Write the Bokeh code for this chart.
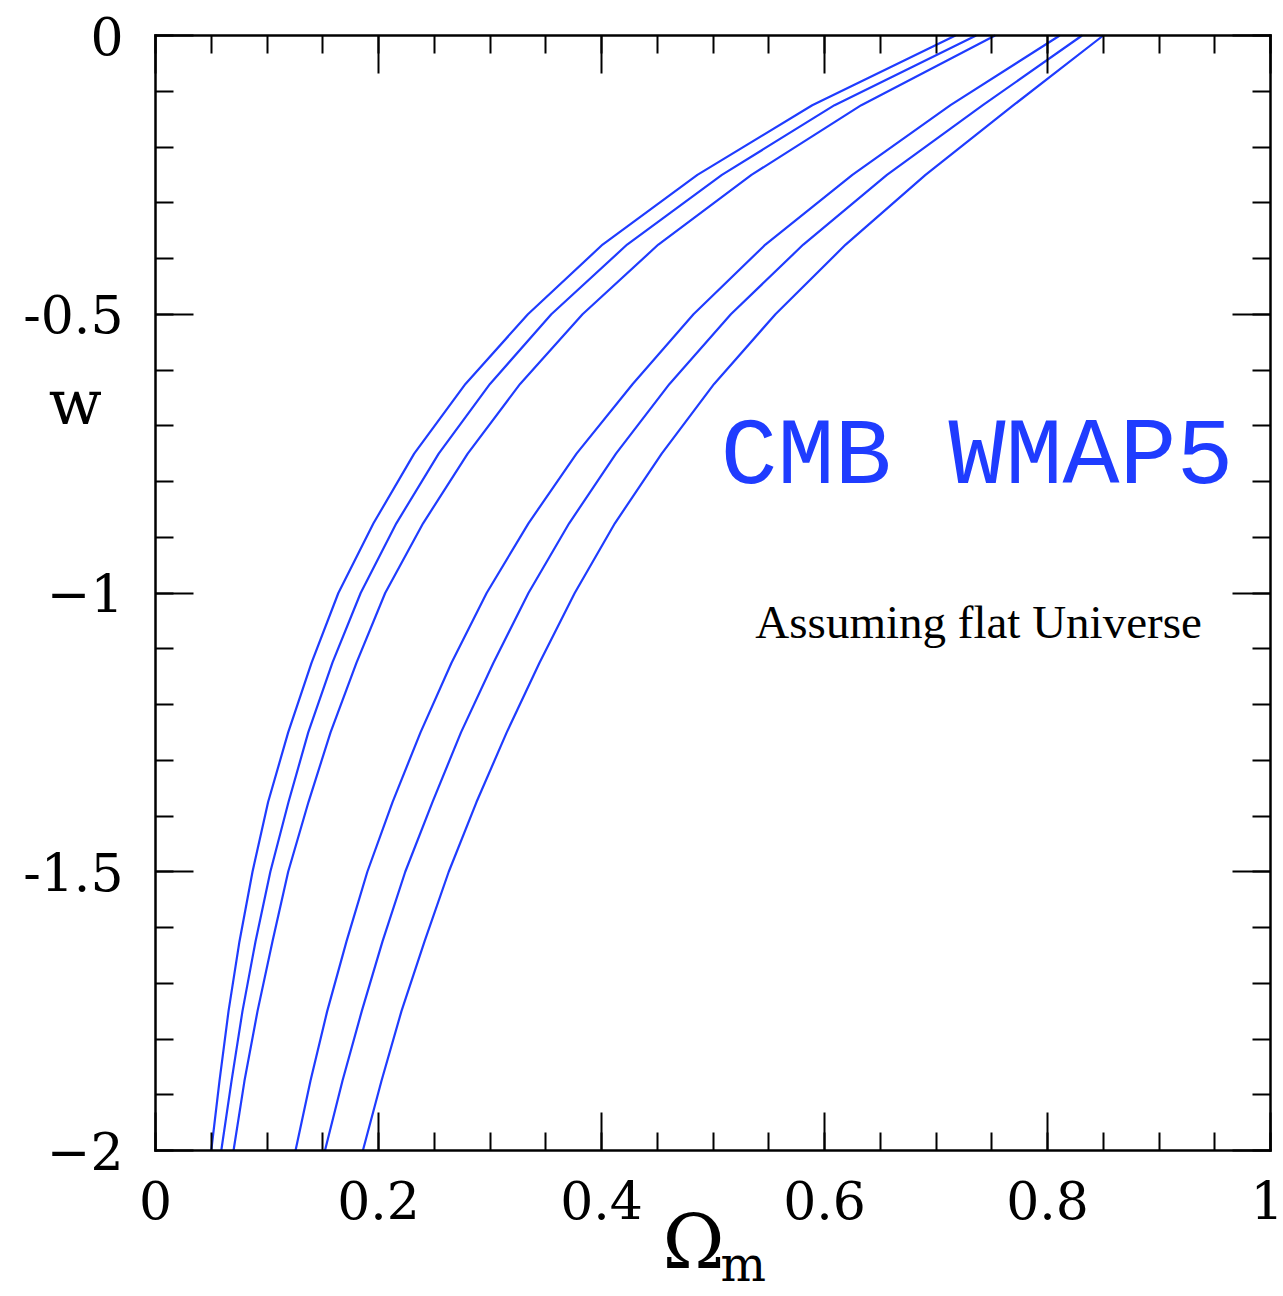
from bokeh.plotting import figure
from bokeh.models import LinearAxis, FixedTicker, Range1d, Label
from bokeh.embed import file_html
from bokeh.resources import INLINE

# Dark-energy equation of state w at which each contour is sampled
w_vals = [0.0, -0.125, -0.25, -0.375, -0.5, -0.625, -0.75, -0.875,
          -1.0, -1.125, -1.25, -1.375, -1.5, -1.625, -1.75, -1.875, -2.0]

# Omega_m along the three contours of the left band
om_a1 = [0.7175, 0.589, 0.486, 0.401, 0.334, 0.278, 0.232, 0.1955,
         0.164, 0.140, 0.119, 0.101, 0.087, 0.0753, 0.0655, 0.0574, 0.050]
om_a2 = [0.736, 0.609, 0.508, 0.423, 0.355, 0.300, 0.254, 0.216,
         0.184, 0.1587, 0.137, 0.1193, 0.103, 0.0897, 0.078, 0.0682, 0.059]
om_a3 = [0.753, 0.633, 0.5345, 0.451, 0.383, 0.327, 0.280, 0.240,
         0.206, 0.1803, 0.157, 0.1372, 0.119, 0.1049, 0.0915, 0.0798, 0.070]

# Omega_m along the three contours of the right band
om_b1 = [0.811, 0.713, 0.625, 0.547, 0.4825, 0.428, 0.3776, 0.3345,
         0.297, 0.2655, 0.2377, 0.2126, 0.190, 0.1713, 0.154, 0.139, 0.1256]
om_b2 = [0.831, 0.742, 0.656, 0.581, 0.516, 0.461, 0.413, 0.371,
         0.3345, 0.3031, 0.274, 0.2484, 0.224, 0.2036, 0.185, 0.1677, 0.152]
om_b3 = [0.850, 0.7695, 0.6906, 0.619, 0.556, 0.501, 0.454, 0.412,
         0.376, 0.3444, 0.315, 0.2879, 0.263, 0.2413, 0.2206, 0.2027, 0.186]

x_major = [0, 0.2, 0.4, 0.6, 0.8, 1.0]
x_minor = [round(i * 0.05, 2) for i in range(21)]
x_labels = ["0", "0.2", "0.4", "0.6", "0.8", "1"]
y_major = [0, -0.5, -1.0, -1.5, -2.0]
y_minor = [round(-i * 0.1, 1) for i in range(21)]
y_labels = ["0", "-0.5", "\u22121", "-1.5", "\u22122"]

X0, X1 = 0.0, 1.0
Y0, Y1 = -2.0, 0.0

BLUE = "#1f3cff"
SERIF = "DejaVu Serif"

# Canvas geometry: the axes box sits inside a borderless frame so that the
# axis titles can be placed freely around it.
W, H = 1283, 1296
BOX_L, BOX_T, BOX_SIZE = 155, 35, 1115
px_x = (X1 - X0) / BOX_SIZE
px_y = (Y1 - Y0) / BOX_SIZE
x_range = Range1d(X0 - BOX_L * px_x, X0 + (W - BOX_L) * px_x)
y_range = Range1d(Y1 - (H - BOX_T) * px_y, Y1 + BOX_T * px_y)

p = figure(width=W, height=H, x_range=x_range, y_range=y_range,
           output_backend="svg", toolbar_location=None,
           x_axis_location=None, y_axis_location=None,
           min_border=0)
p.background_fill_color = "white"
p.border_fill_color = "white"
p.outline_line_color = None
for g in p.grid:
    g.visible = False

for om in (om_a1, om_a2, om_a3, om_b1, om_b2, om_b3):
    p.line(om, w_vals, line_color=BLUE, line_width=2.2, line_join="round")

xt = FixedTicker(ticks=x_major, minor_ticks=x_minor)
yt = FixedTicker(ticks=y_major, minor_ticks=y_minor)


def make_axis(ticker, loc, bounds, show_labels):
    ax = LinearAxis(ticker=ticker, fixed_location=loc, bounds=bounds)
    ax.axis_line_color = "black"
    ax.axis_line_width = 2.5
    ax.axis_line_cap = "square"
    ax.major_tick_line_color = "black"
    ax.major_tick_line_width = 2
    ax.minor_tick_line_color = "black"
    ax.minor_tick_line_width = 2
    ax.major_tick_in = 38
    ax.major_tick_out = 0
    ax.minor_tick_in = 18
    ax.minor_tick_out = 0
    ax.major_label_text_font = SERIF
    ax.major_label_text_font_size = "52px"
    if show_labels:
        ax.major_label_text_color = "black"
        ax.major_label_standoff = 30
    else:
        ax.major_label_text_color = None
    return ax


xb = make_axis(xt, Y0, (X0, X1), True)
xb.major_label_overrides = {v: s for v, s in zip(x_major, x_labels)}
p.add_layout(xb, "below")

xtop = make_axis(xt, Y1, (X0, X1), False)
p.add_layout(xtop, "above")

yl = make_axis(yt, X0, (Y0, Y1), True)
yl.major_label_overrides = {v: s for v, s in zip(y_major, y_labels)}
yl.major_label_standoff = 32
p.add_layout(yl, "left")

yr = make_axis(yt, X1, (Y0, Y1), False)
p.add_layout(yr, "right")

# Axis titles
p.add_layout(Label(x=-0.072, y=-0.6583, text="w", text_font=SERIF,
                   text_font_size="62px", text_align="center",
                   text_baseline="alphabetic", text_color="black"))
p.add_layout(Label(x=0.4547, y=-2.165, text="\u03a9", text_font=SERIF,
                   text_font_size="75px", text_align="left",
                   text_baseline="alphabetic", text_color="black"))
p.add_layout(Label(x=0.5067, y=-2.204, text="m", text_font=SERIF,
                   text_font_size="48px", text_align="left",
                   text_baseline="alphabetic", text_color="black"))

# Annotations inside the box
p.add_layout(Label(x=0.5067, y=-0.7587, text="CMB WMAP5",
                   text_font="Liberation Mono", text_font_size="95px",
                   text_align="left", text_baseline="alphabetic",
                   text_color=BLUE))
p.add_layout(Label(x=0.538, y=-1.0529, text="Assuming flat Universe",
                   text_font="Liberation Serif", text_font_size="47px",
                   text_align="left", text_baseline="alphabetic",
                   text_color="black"))

open("out.html", "w").write(file_html(p, INLINE))
